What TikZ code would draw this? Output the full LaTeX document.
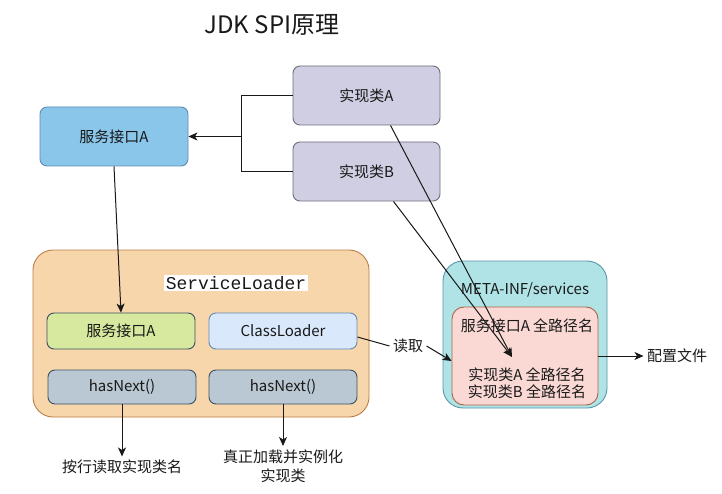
\documentclass[tikz,border=0pt]{standalone}
\usepackage{fontspec}
\setmainfont{Noto Sans CJK SC}
\setmonofont{Liberation Mono}
\usetikzlibrary{arrows.meta,positioning}
\definecolor{skyfill}{RGB}{138,198,234}
\definecolor{skyline}{RGB}{98,140,180}
\definecolor{lilac}{RGB}{208,206,226}
\definecolor{lilacline}{RGB}{110,110,125}
\definecolor{peach}{RGB}{246,214,170}
\definecolor{peachline}{RGB}{190,125,70}
\definecolor{lime}{RGB}{214,233,158}
\definecolor{paleblue}{RGB}{218,232,252}
\definecolor{slate}{RGB}{186,200,211}
\definecolor{slateline}{RGB}{60,80,100}
\definecolor{aqua}{RGB}{176,227,230}
\definecolor{aqualine}{RGB}{90,150,170}
\definecolor{rose}{RGB}{250,217,213}
\definecolor{roseline}{RGB}{170,100,70}
\definecolor{ink}{RGB}{25,25,25}
\tikzset{
  >={Stealth[length=9pt,width=8pt,inset=2.5pt]},
  txt/.style={font=\fontsize{15}{18}\selectfont,text=ink,align=center},
  box/.style={draw=#1,line width=0.9pt,rounded corners=7pt,inner sep=0pt,txt},
  group/.style={draw=#1,line width=0.9pt,rounded corners=20pt,inner sep=0pt},
  link/.style={draw=ink,line width=1pt},
}

\begin{document}
\begin{tikzpicture}[x=1pt,y=-1pt]
    \useasboundingbox[fill=white] (0,0) rectangle (722,494);
    \node[font=\fontsize{24}{28}\selectfont,text=ink] (title) at (272,25) {JDK SPI原理};
    % interface and implementations
    \node[box=skyline,fill=skyfill,minimum width=148,minimum height=59] (iface) at (114,136.5) {服务接口A};
    \node[box=lilacline,fill=lilac,minimum width=147,minimum height=59] (implA) at (366.5,95.5) {实现类A};
    \node[box=lilacline,fill=lilac,minimum width=147,minimum height=59] (implB) at (366.5,171.5) {实现类B};
    % ServiceLoader
    \node[group=peachline,fill=peach,minimum width=336,minimum height=167] (loader) at (201,333.5) {};
    \node[fill=white,inner sep=1.5pt,font=\ttfamily\fontsize{18}{20}\selectfont,text=ink] (loaderlbl) at (236,283) {ServiceLoader};
    \node[box=slateline,fill=lime,minimum width=148,minimum height=36] (ifaceB) at (121,331) {服务接口A};
    \node[box=skyline,fill=paleblue,minimum width=148,minimum height=36] (cl) at (283,331) {ClassLoader};
    \node[box=slateline,fill=slate,minimum width=148,minimum height=34] (next1) at (122,387) {hasNext()};
    \node[box=slateline,fill=slate,minimum width=148,minimum height=34] (next2) at (283,387) {hasNext()};
    % META-INF/services
    \node[group=aqualine,fill=aqua,minimum width=164,minimum height=147] (meta) at (525,334.5) {};
    \node[txt] (metalbl) at (525,290) {META-INF/services};
    \node[draw=roseline,fill=rose,line width=0.9pt,rounded corners=12pt,minimum width=146,minimum height=98] (cfg) at (525,356) {};
    \node[txt] (cfgtop) at (527,326) {服务接口A 全路径名};
    \node[txt,font=\fontsize{15}{17}\selectfont] (cfgimpl) at (527,383.5) {实现类A 全路径名\\实现类B 全路径名};
    \coordinate (hit) at (512,357);
    % free labels
    \node[txt] (readlbl) at (408,346) {读取};
    \node[txt] (cfgout) at (677,356) {配置文件};
    \node[txt] (out1) at (122,467) {按行读取实现类名};
    \node[txt,font=\fontsize{15}{19}\selectfont] (out2) at (283,466) {真正加载并实例化\\实现类};
    % connectors
    \coordinate (jn) at (241,136.5);
    \draw[link] (implA.west) -- (implA.west -| jn) -- (implB.west -| jn) -- (implB.west);
    \draw[link,->] (jn) -- (iface.east);
    \draw[link,->] (iface.south) -- (ifaceB.north);
    \draw[link,->] ([xshift=24]implA.south) -- (hit);
    \draw[link,->] ([xshift=27]implB.south) -- (hit);
    \draw[link] ([yshift=-6]cl.east) -- (readlbl.west);
    \draw[link,->] (readlbl.east) -- ([yshift=-5]cfg.west);
    \draw[link,->] (cfg.east) -- (cfgout.west);
    \draw[link,->] (next1.south) -- (out1.north);
    \draw[link,->] (next2.south) -- (out2.north);
\end{tikzpicture}
\end{document}
